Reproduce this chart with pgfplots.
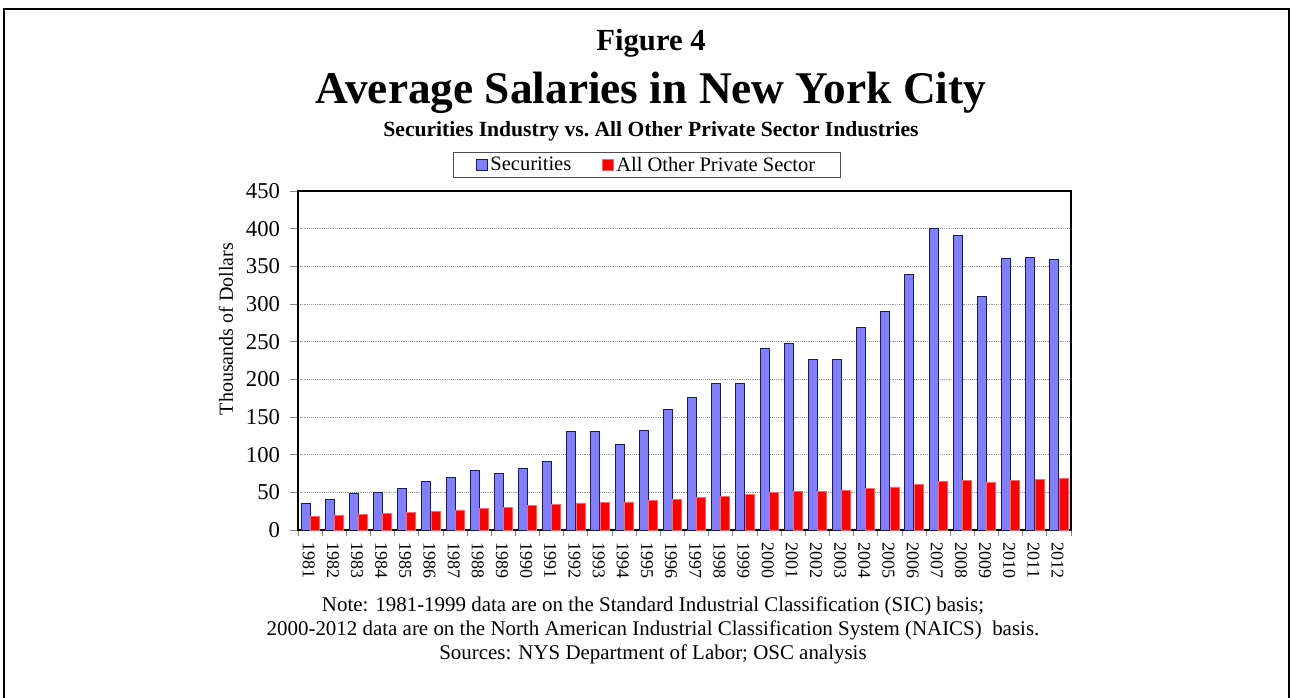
\documentclass[border=0pt]{standalone}
\usepackage{fontspec}
\setmainfont{Liberation Serif}
\usepackage{pgfplots}
\pgfplotsset{compat=1.18}
\usepackage{pgfplotstable}
\definecolor{secblue}{HTML}{8080FF}
\definecolor{secedge}{HTML}{1A1A66}
\definecolor{othred}{HTML}{FF0000}
\pgfplotstableread{
x year sec oth
0 1981 35.0 18.0
1 1982 40.3 20.0
2 1983 48.3 20.8
3 1984 50.0 22.0
4 1985 55.4 23.5
5 1986 64.6 24.8
6 1987 69.5 26.6
7 1988 78.8 28.8
8 1989 74.8 30.1
9 1990 81.5 32.3
10 1991 90.8 33.7
11 1992 130.6 35.9
12 1993 130.6 36.3
13 1994 112.9 37.2
14 1995 132.0 39.0
15 1996 159.8 40.8
16 1997 175.8 43.0
17 1998 194.3 44.7
18 1999 195.1 47.0
19 2000 241.2 49.6
20 2001 247.4 51.4
21 2002 226.2 51.4
22 2003 226.2 52.7
23 2004 268.7 55.4
24 2005 289.9 57.1
25 2006 339.0 60.7
26 2007 400.0 64.6
27 2008 390.8 66.0
28 2009 309.8 63.3
29 2010 360.3 66.0
30 2011 361.6 67.7
31 2012 359.4 69.0
}\datatable
\begin{document}
\begin{tikzpicture}
\begin{scope}[x=0.75pt,y=-0.75pt]
\useasboundingbox (0,0) rectangle (1291,698);
\draw[line width=1.5pt] (3.5,698) -- (3.5,9.5) -- (1289,9.5) -- (1289,698);
\node[anchor=base] at (651,51) {\fontsize{23}{27}\selectfont\bfseries Figure 4};
\node[anchor=base] at (651,104) {\fontsize{34}{38}\selectfont\bfseries Average Salaries in New York City};
\node[anchor=base] at (651,137) {\fontsize{16.2}{19}\selectfont\bfseries Securities Industry vs.\ All Other Private Sector Industries};
\node[anchor=base] at (653,611) {\fontsize{15.7}{19}\selectfont Note: 1981-1999 data are on the Standard Industrial Classification (SIC) basis;};
\node[anchor=base] at (653,635) {\fontsize{15.7}{19}\selectfont 2000-2012 data are on the North American Industrial Classification System (NAICS)\ \ basis.};
\node[anchor=base] at (653,659) {\fontsize{15.7}{19}\selectfont Sources: NYS Department of Labor; OSC analysis};
\node[rotate=90] at (226,329) {\fontsize{15}{18}\selectfont Thousands of Dollars};
\coordinate (A) at (298,530);
\end{scope}
\begin{axis}[
  at={(A)}, anchor=south west,
  scale only axis, width=579.75pt, height=254.25pt,
  xmin=-0.5, xmax=31.5, ymin=0, ymax=450,
  ytick={0,50,...,450},
  ybar=0pt, bar width=6.75pt,
  axis line style={black, line width=1.3pt},
  ymajorgrids, grid style={densely dotted, gray!80, line width=0.6pt},
  tick align=outside,
  xtick pos=lower, ytick pos=left,
  major tick length=6pt, minor tick length=4.5pt,
  xtick={0,...,31},
  xticklabels={1981,1982,1983,1984,1985,1986,1987,1988,1989,1990,1991,1992,1993,1994,1995,1996,1997,1998,1999,2000,2001,2002,2003,2004,2005,2006,2007,2008,2009,2010,2011,2012},
  minor xtick={-0.5,0.5,...,31.5},
  major x tick style={draw=none},
  minor x tick style={draw=gray, line width=0.6pt},
  y tick style={draw=gray, line width=0.6pt},
  xticklabel style={rotate=-90, anchor=west, font=\fontsize{13.5}{16}\selectfont, yshift=-1pt},
  yticklabel style={font=\fontsize{17}{20}\selectfont, xshift=-4pt},
  /pgf/number format/assume math mode=true,
  legend style={at={(0.4515,1.0767)}, anchor=center, draw=black!70, line width=0.6pt,
    font=\fontsize{15.4}{18}\selectfont, legend columns=2,
    /tikz/every even column/.append style={column sep=21pt},
    inner xsep=17pt, inner ysep=1.5pt},
  legend image code/.code={\draw[#1, line width=0.5pt] (0pt,-4.1pt) rectangle (8.2pt,4.1pt);},
  legend cell align=left,
  clip=false,
]
\addplot[fill=secblue, draw=secedge, line width=0.75pt] table[x=x, y=sec] {\datatable};
\addlegendentry{Securities}
\addplot[fill=othred, draw=othred!60, line width=0.4pt] table[x=x, y=oth] {\datatable};
\addlegendentry{All Other Private Sector}
\end{axis}
\end{tikzpicture}
\end{document}
